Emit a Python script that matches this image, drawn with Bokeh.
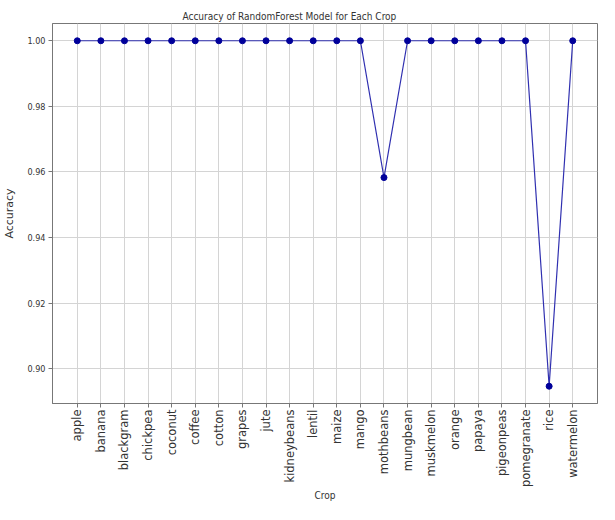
import math
from bokeh.plotting import figure
from bokeh.models import Range1d, FixedTicker, NumeralTickFormatter, Title
from bokeh.embed import file_html
from bokeh.resources import INLINE

crops = ["apple", "banana", "blackgram", "chickpea", "coconut", "coffee", "cotton",
         "grapes", "jute", "kidneybeans", "lentil", "maize", "mango", "mothbeans",
         "mungbean", "muskmelon", "orange", "papaya", "pigeonpeas", "pomegranate",
         "rice", "watermelon"]
accuracy = [1.0, 1.0, 1.0, 1.0, 1.0, 1.0, 1.0, 1.0, 1.0, 1.0, 1.0, 1.0, 1.0, 0.9583,
            1.0, 1.0, 1.0, 1.0, 1.0, 1.0, 0.8947, 1.0]
y_ticks = [0.90, 0.92, 0.94, 0.96, 0.98, 1.00]

xs = list(range(len(crops)))
span_y = max(accuracy) - min(accuracy)
p = figure(width=599, height=504, output_backend="svg", toolbar_location=None,
           x_range=Range1d(-0.05 * (len(crops) - 1), (len(crops) - 1) * 1.05),
           y_range=Range1d(min(accuracy) - 0.05 * span_y, max(accuracy) + 0.05 * span_y),
           min_border_left=42, min_border_right=2, min_border_top=23, min_border_bottom=60)

COND = "'DejaVu Sans Condensed', 'Liberation Sans Narrow', 'DejaVu Sans'"
title = Title(text="Accuracy of RandomForest Model for Each Crop", align="left", offset=130,
              text_font=COND, text_font_size="10px", text_font_style="normal",
              text_color="#333333", standoff=4)
p.add_layout(title, "above")

p.line(xs, accuracy, line_color="#3030b0", line_width=1.2)
p.scatter(xs, accuracy, size=6, fill_color="#00009a", line_color="#00009a")

p.xaxis.ticker = FixedTicker(ticks=xs)
p.xaxis.major_label_overrides = {i: c for i, c in enumerate(crops)}
p.xaxis.major_label_orientation = math.pi / 2
p.xaxis.major_label_text_font = "DejaVu Sans"
p.xaxis.major_label_text_font_size = "11.5px"
p.xaxis.axis_label = "Crop"
p.xaxis.axis_label_text_font = COND
p.xaxis.axis_label_text_font_size = "10px"
p.xaxis.axis_label_text_font_style = "normal"
p.xaxis.axis_label_standoff = 0

p.yaxis.ticker = FixedTicker(ticks=y_ticks)
p.yaxis.formatter = NumeralTickFormatter(format="0.00")
p.yaxis.major_label_text_font = COND
p.yaxis.major_label_text_font_size = "9px"
p.yaxis.axis_label = "Accuracy"
p.yaxis.axis_label_text_font = "DejaVu Sans"
p.yaxis.axis_label_text_font_size = "11px"
p.yaxis.axis_label_text_font_style = "normal"
p.yaxis.axis_label_standoff = 8

for ax in (p.xaxis, p.yaxis):
    ax.axis_line_color = "#777777"
    ax.major_tick_line_color = "#777777"
    ax.major_tick_out = 4
    ax.major_tick_in = 0
    ax.minor_tick_line_color = None
    ax.major_label_text_color = "#333333"
    ax.axis_label_text_color = "#333333"
p.xaxis.major_label_standoff = 2
p.yaxis.major_label_standoff = 3

p.xgrid.ticker = FixedTicker(ticks=xs)
p.grid.grid_line_color = "#d4d4d4"
p.grid.grid_line_width = 1
p.outline_line_color = "#777777"
p.outline_line_width = 1

open("out.html", "w").write(file_html(p, INLINE))
